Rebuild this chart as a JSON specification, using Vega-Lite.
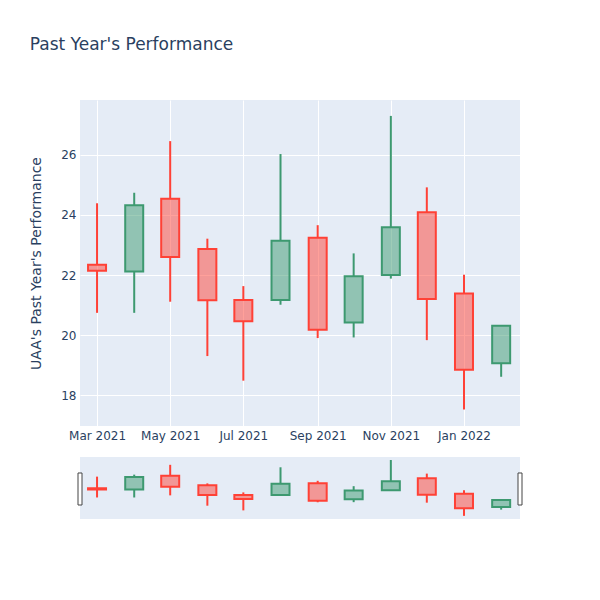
{
  "$schema": "https://vega.github.io/schema/vega-lite/v6.json",
  "background": "white",
  "padding": {"left": 29, "top": 36, "right": 10, "bottom": 10},
  "title": {"text": "Past Year's Performance", "anchor": "start", "frame": "bounds", "font": "DejaVu Sans", "fontSize": 17, "fontWeight": "normal", "color": "#2a3f5f", "offset": 46},
  "config": {
    "view": {"fill": "#E5ECF6", "stroke": null},
    "font": "DejaVu Sans",
    "axis": {"labelFont": "DejaVu Sans", "titleFont": "DejaVu Sans", "labelColor": "#2a3f5f", "titleColor": "#2a3f5f", "labelFontSize": 12, "titleFontSize": 14, "titleFontWeight": "normal", "domain": false, "ticks": false, "gridColor": "white", "gridWidth": 1, "gridOpacity": 1}
  },
  "datasets": {
    "ohlc": [
      {"date": "2021-03-01", "open": 22.34, "high": 24.39, "low": 20.74, "close": 22.14},
      {"date": "2021-04-01", "open": 22.12, "high": 24.74, "low": 20.74, "close": 24.32},
      {"date": "2021-05-01", "open": 24.54, "high": 26.46, "low": 21.11, "close": 22.60},
      {"date": "2021-06-01", "open": 22.87, "high": 23.21, "low": 19.30, "close": 21.16},
      {"date": "2021-07-01", "open": 21.17, "high": 21.63, "low": 18.48, "close": 20.46},
      {"date": "2021-08-01", "open": 21.17, "high": 26.03, "low": 21.01, "close": 23.14},
      {"date": "2021-09-01", "open": 23.24, "high": 23.66, "low": 19.90, "close": 20.18},
      {"date": "2021-10-01", "open": 20.42, "high": 22.72, "low": 19.92, "close": 21.96},
      {"date": "2021-11-01", "open": 22.00, "high": 27.30, "low": 21.88, "close": 23.59},
      {"date": "2021-12-01", "open": 24.09, "high": 24.92, "low": 19.83, "close": 21.20},
      {"date": "2022-01-01", "open": 21.38, "high": 22.01, "low": 17.52, "close": 18.84},
      {"date": "2022-02-01", "open": 19.06, "high": 20.32, "low": 18.61, "close": 20.31}
    ],
    "handles": [
      {"date": "2021-02-14T19:00:00Z", "top": 25.03, "bottom": 19.42},
      {"date": "2022-02-16T17:00:00Z", "top": 25.03, "bottom": 19.42}
    ]
  },
  "spacing": 16,
  "vconcat": [
    {
      "width": 440,
      "height": 326,
      "data": {"name": "ohlc"},
      "transform": [
        {"calculate": "min(datum.open, datum.close)", "as": "bodyLow"},
        {"calculate": "max(datum.open, datum.close)", "as": "bodyHigh"},
        {"calculate": "datum.close >= datum.open ? 'inc' : 'dec'", "as": "dir"}
      ],
      "encoding": {
        "x": {"field": "date", "type": "temporal",
          "scale": {"type": "utc", "padding": 0, "domain": [{"year": 2021, "month": 2, "date": 14, "hours": 19, "utc": true}, {"year": 2022, "month": 2, "date": 16, "hours": 17, "utc": true}]},
          "axis": {"title": null, "labelExpr": "utcFormat(datum.value, '%b %Y')", "tickCount": {"interval": "month", "step": 2}, "labelPadding": 4, "labelFlush": false, "labelOverlap": false}}
      },
      "layer": [
        {
          "mark": {"type": "rule", "strokeWidth": 2},
          "encoding": {
            "y": {"field": "low", "type": "quantitative", "scale": {"domain": [16.97, 27.83], "nice": false, "zero": false},
              "axis": {"title": "UAA's Past Year's Performance", "values": [18, 20, 22, 24, 26], "labelPadding": 4, "titlePadding": 17}},
            "y2": {"field": "bodyLow"},
            "color": {"field": "dir", "type": "nominal", "scale": {"domain": ["inc", "dec"], "range": ["#3D9970", "#FF4136"]}, "legend": null}
          }
        },
        {
          "mark": {"type": "rule", "strokeWidth": 2},
          "encoding": {
            "y": {"field": "bodyHigh", "type": "quantitative"},
            "y2": {"field": "high"},
            "color": {"field": "dir", "type": "nominal", "legend": null}
          }
        },
        {
          "mark": {"type": "bar", "size": 18, "strokeWidth": 2, "fillOpacity": 0.5},
          "encoding": {
            "y": {"field": "open", "type": "quantitative"},
            "y2": {"field": "close"},
            "fill": {"field": "dir", "type": "nominal", "scale": {"domain": ["inc", "dec"], "range": ["#3D9970", "#FF4136"]}, "legend": null},
            "stroke": {"field": "dir", "type": "nominal", "scale": {"domain": ["inc", "dec"], "range": ["#3D9970", "#FF4136"]}, "legend": null}
          }
        }
      ]
    },
    {
      "width": 440,
      "height": 62,
      "encoding": {
        "x": {"field": "date", "type": "temporal",
          "scale": {"type": "utc", "padding": 0, "domain": [{"year": 2021, "month": 2, "date": 14, "hours": 19, "utc": true}, {"year": 2022, "month": 2, "date": 16, "hours": 17, "utc": true}]},
          "axis": null}
      },
      "layer": [
        {
          "data": {"name": "ohlc"},
          "transform": [
            {"calculate": "min(datum.open, datum.close)", "as": "bodyLow"},
            {"calculate": "max(datum.open, datum.close)", "as": "bodyHigh"},
            {"calculate": "datum.close >= datum.open ? 'inc' : 'dec'", "as": "dir"}
          ],
          "layer": [
            {
              "mark": {"type": "rule", "strokeWidth": 2},
              "encoding": {
                "y": {"field": "low", "type": "quantitative", "scale": {"domain": [16.97, 27.83], "nice": false, "zero": false}, "axis": null},
                "y2": {"field": "bodyLow"},
                "color": {"field": "dir", "type": "nominal", "legend": null}
              }
            },
            {
              "mark": {"type": "rule", "strokeWidth": 2},
              "encoding": {
                "y": {"field": "bodyHigh", "type": "quantitative"},
                "y2": {"field": "high"},
                "color": {"field": "dir", "type": "nominal", "legend": null}
              }
            },
            {
              "mark": {"type": "bar", "size": 18, "strokeWidth": 2, "fillOpacity": 0.5},
              "encoding": {
                "y": {"field": "open", "type": "quantitative"},
                "y2": {"field": "close"},
                "fill": {"field": "dir", "type": "nominal", "legend": null},
                "stroke": {"field": "dir", "type": "nominal", "legend": null}
              }
            }
          ]
        },
        {
          "data": {"name": "handles"},
          "mark": {"type": "bar", "size": 4, "fill": "white", "stroke": "#444", "strokeWidth": 1, "clip": false},
          "encoding": {
            "y": {"field": "top", "type": "quantitative"},
            "y2": {"field": "bottom"}
          }
        }
      ]
    }
  ]
}
